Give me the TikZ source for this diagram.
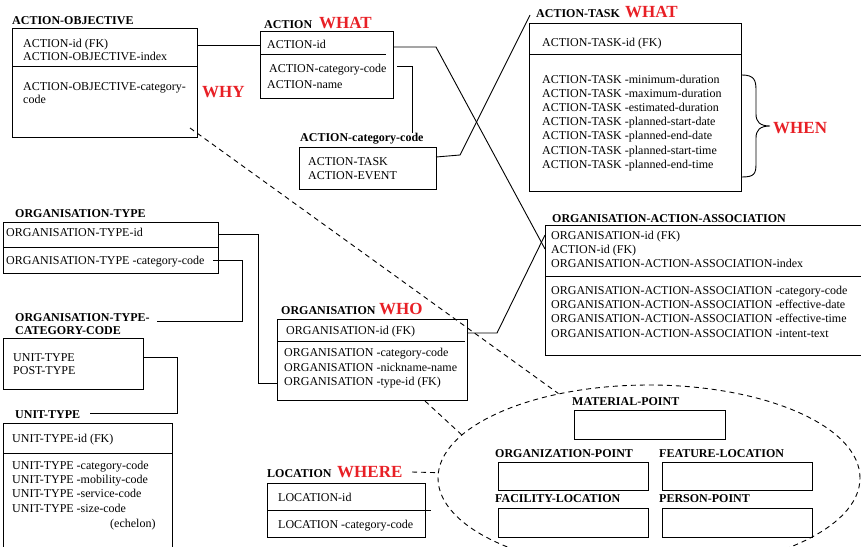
\documentclass[tikz,border=0pt]{standalone}
\usepackage{fontspec}
\setmainfont{Liberation Serif}
\usetikzlibrary{calc,shapes.geometric}
\definecolor{tag}{RGB}{232,32,38}
\begin{document}
\begin{tikzpicture}[x=1pt,y=-1pt,
  box/.style={draw, line width=0.9pt, anchor=north west, inner sep=0pt, outer sep=0pt},
  field/.style={anchor=base west, inner sep=0pt, font=\fontsize{12}{14}\selectfont},
  entity/.style={anchor=base west, inner sep=0pt, font=\fontsize{12}{14}\selectfont\bfseries},
  aspect/.style={anchor=base west, inner sep=0pt, text=tag, font=\fontsize{17}{20}\selectfont\bfseries},
  link/.style={line width=0.9pt},
  hint/.style={line width=0.9pt, dash pattern=on 5pt off 4pt},
  rule/.style={line width=0.9pt}]

\useasboundingbox (0,0) rectangle (861,546);
\clip (0,0) rectangle (861,546);

% ---------------- entity boxes ----------------
\node[box, minimum width=185, minimum height=109] (ao)   at (12,28)  {};
\node[box, minimum width=133, minimum height=67]  (act)  at (260,31) {};
\node[box, minimum width=137, minimum height=42]  (acc)  at (299,147) {};
\node[box, minimum width=212, minimum height=168] (at)   at (529,23) {};
\node[box, minimum width=325, minimum height=130] (oaa)  at (545,225) {};
\node[box, minimum width=215, minimum height=51]  (ot)   at (3,222) {};
\node[box, minimum width=140, minimum height=51]  (otcc) at (3,338) {};
\node[box, minimum width=169, minimum height=137] (ut)   at (3,423) {};
\node[box, minimum width=190, minimum height=81]  (org)  at (277,319) {};
\node[box, minimum width=158, minimum height=54]  (loc)  at (267,483) {};

% location subtypes inside the dashed ellipse
\node[draw, line width=0.9pt, dash pattern=on 5pt off 4pt, ellipse,
      minimum width=422, minimum height=186, inner sep=0pt] (where) at (649,478) {};
\node[box, minimum width=151, minimum height=29] (mp)  at (574,410) {};
\node[box, minimum width=150, minimum height=28] (op)  at (498,462) {};
\node[box, minimum width=150, minimum height=28] (fl)  at (662,462) {};
\node[box, minimum width=150, minimum height=29] (fac) at (498,508) {};
\node[box, minimum width=150, minimum height=29] (pp)  at (662,508) {};

% key / attribute dividers
\draw[rule] (ao.west |- 0,66)  -- (ao.east |- 0,66);
\draw[rule] (act.west |- 0,54) -- (386,54);
\draw[rule] (at.west |- 0,54)  -- (742,54);
\draw[rule] (oaa.west |- 0,276) -- (870,276);
\draw[rule] (ot.west |- 0,247) -- (ot.east |- 0,247);
\draw[rule] (ut.west |- 0,453) -- (173,453);
\draw[rule] (org.west |- 0,341) -- (465,341);
\draw[rule] (loc.west |- 0,510) -- (431,510);

% ---------------- titles ----------------
\node[entity] (aoT)   at (12,24)   {ACTION-OBJECTIVE};
\node[entity] (actT)  at (264,28)  {ACTION};
\node[aspect] (actW)  at (319,28)  {WHAT};
\node[entity] (accT)  at (300,141) {ACTION-category-code};
\node[entity] (atT)   at (536,17)  {ACTION-TASK};
\node[aspect] (atW)   at (625,17)  {WHAT};
\node[entity] (oaaT)  at (552,222) {ORGANISATION-ACTION-ASSOCIATION};
\node[entity] (otT)   at (15,217)  {ORGANISATION-TYPE};
\node[entity] (otccT) at (15,321)  {ORGANISATION-TYPE-};
\node[entity] (otccU) at (15,334)  {CATEGORY-CODE};
\node[entity] (utT)   at (15,418)  {UNIT-TYPE};
\node[entity] (orgT)  at (281,314) {ORGANISATION};
\node[aspect] (orgW)  at (379,314) {WHO};
\node[entity] (locT)  at (267,477) {LOCATION};
\node[aspect] (locW)  at (337,477) {WHERE};
\node[aspect] (aoW)   at (202,97)  {WHY};
\node[aspect] (atN)   at (773,133) {WHEN};
\node[entity] (mpT)   at (572,405) {MATERIAL-POINT};
\node[entity] (opT)   at (495,457) {ORGANIZATION-POINT};
\node[entity] (flT)   at (659,457) {FEATURE-LOCATION};
\node[entity] (facT)  at (495,502) {FACILITY-LOCATION};
\node[entity] (ppT)   at (659,502) {PERSON-POINT};

% ---------------- attributes ----------------
\node[field] (ao1) at (23,47)  {ACTION-id (FK)};
\node[field] (ao2) at (23,60)  {ACTION-OBJECTIVE-index};
\node[field] (ao3) at (23,90)  {ACTION-OBJECTIVE-category-};
\node[field] (ao4) at (23,103) {code};

\node[field] (act1) at (267,48) {ACTION-id};
\node[field] (act2) at (269,72) {ACTION-category-code};
\node[field] (act3) at (267,88) {ACTION-name};

\node[field] (acc1) at (308,165) {ACTION-TASK};
\node[field] (acc2) at (308,179) {ACTION-EVENT};

\node[field] (at0) at (542,46)    {ACTION-TASK-id (FK)};
\node[field] (at1) at (542,83)    {ACTION-TASK -minimum-duration};
\node[field] (at2) at (542,97.2)  {ACTION-TASK -maximum-duration};
\node[field] (at3) at (542,111.4) {ACTION-TASK -estimated-duration};
\node[field] (at4) at (542,125.6) {ACTION-TASK -planned-start-date};
\node[field] (at5) at (542,139.8) {ACTION-TASK -planned-end-date};
\node[field] (at6) at (542,154)   {ACTION-TASK -planned-start-time};
\node[field] (at7) at (542,168.2) {ACTION-TASK -planned-end-time};

\node[field] (oaa1) at (551,239) {ORGANISATION-id (FK)};
\node[field] (oaa2) at (551,253) {ACTION-id (FK)};
\node[field] (oaa3) at (551,267) {ORGANISATION-ACTION-ASSOCIATION-index};
\node[field] (oaa4) at (551,294) {ORGANISATION-ACTION-ASSOCIATION -category-code};
\node[field] (oaa5) at (551,308) {ORGANISATION-ACTION-ASSOCIATION -effective-date};
\node[field] (oaa6) at (551,322) {ORGANISATION-ACTION-ASSOCIATION -effective-time};
\node[field] (oaa7) at (551,337) {ORGANISATION-ACTION-ASSOCIATION -intent-text};

\node[field] (ot1) at (6,236) {ORGANISATION-TYPE-id};
\node[field] (ot2) at (6,264) {ORGANISATION-TYPE -category-code};

\node[field] (otcc1) at (13,361) {UNIT-TYPE};
\node[field] (otcc2) at (13,374) {POST-TYPE};

\node[field] (ut0) at (12,442) {UNIT-TYPE-id (FK)};
\node[field] (ut1) at (12,469) {UNIT-TYPE -category-code};
\node[field] (ut2) at (12,483) {UNIT-TYPE -mobility-code};
\node[field] (ut3) at (12,497) {UNIT-TYPE -service-code};
\node[field] (ut4) at (12,512) {UNIT-TYPE -size-code};
\node[field] (ut5) at (110,527) {(echelon)};

\node[field] (org0) at (286,334) {ORGANISATION-id (FK)};
\node[field] (org1) at (284,356) {ORGANISATION -category-code};
\node[field] (org2) at (284,371) {ORGANISATION -nickname-name};
\node[field] (org3) at (284,385) {ORGANISATION -type-id (FK)};

\node[field] (loc1) at (278,501) {LOCATION-id};
\node[field] (loc2) at (278,528) {LOCATION -category-code};

% ---------------- free connector ends ----------------
\coordinate (catOut)  at (397,66);
\coordinate (catIn)   at (412,133);
\coordinate (taskIn)  at (530,15);
\coordinate (otcOut)  at (213,260);
\coordinate (otcIn)   at (157,321);
\coordinate (utIn)    at (90,413);
\coordinate (whyOut)  at (190,128);
\coordinate (whoOut)  at (425,401);
\coordinate (whereOut) at (412,472);

% ---------------- relationships ----------------
\draw[link] (ao.east |- 0,45) -- (act.west |- 0,45);
\draw[link] (catOut) -| (catIn);
\draw[link] (acc.east |- 0,157) -- (460,155) -- (taskIn);
\draw[link] (act.east |- 0,47) -- (436,47) -- (oaa.west |- 0,249);
\draw[link] (org.east |- 0,333) -- (497,333) -- (oaa.west |- 0,235);
\draw[link] (ot.east |- 0,234) -- (258,234) |- (org.west |- 0,383);
\draw[link] (otcOut) -- (242,260) |- (otcIn);
\draw[link] (otcc.east |- 0,357) -- (177,357) |- (utIn);

% WHEN brace
\draw[link] (742,75) .. controls (754,75) and (756,80) .. (756,90) -- (756,114)
  .. controls (756,122) and (760,126) .. (770,126)
  .. controls (760,126) and (756,130) .. (756,138) -- (756,164)
  .. controls (756,174) and (754,177) .. (742,177);

% dashed hints toward the location ellipse
\draw[hint] (whyOut) -- (where.137.6);
\draw[hint] (whoOut) -- (where.167);
\draw[hint] (whereOut) -- (where);
\end{tikzpicture}
\end{document}
